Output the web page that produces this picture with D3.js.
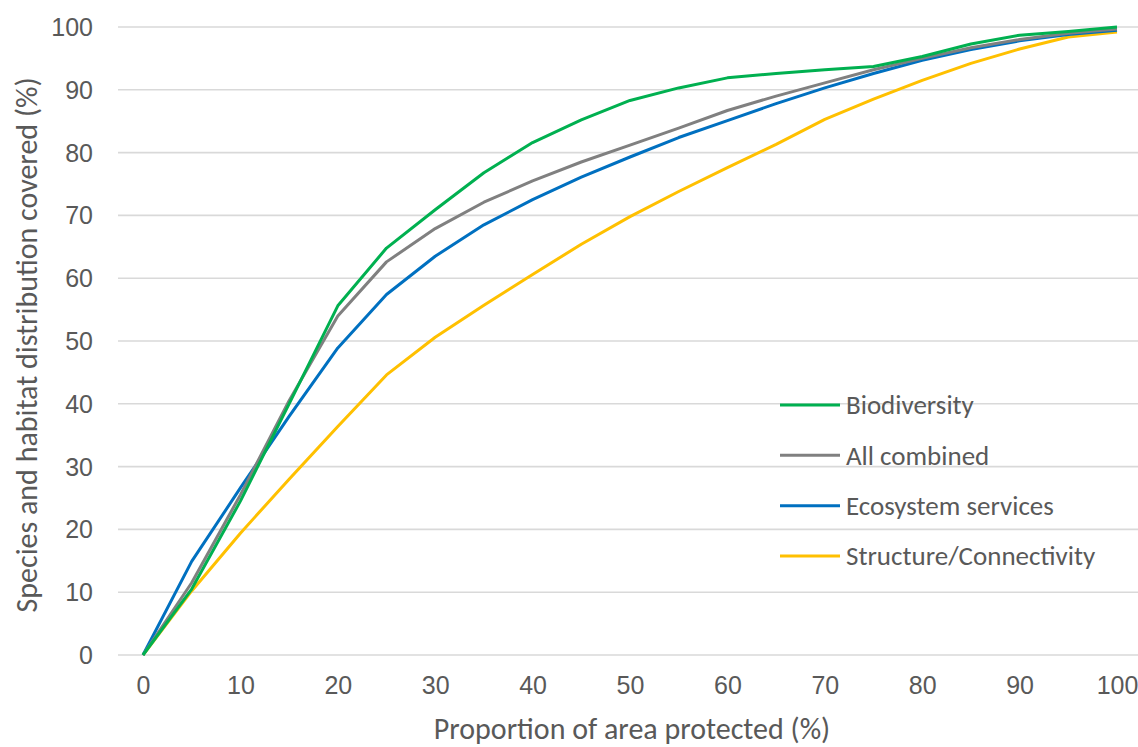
<!DOCTYPE html>
<html>
<head>
<meta charset="utf-8">
<script src="https://cdn.jsdelivr.net/npm/d3@7"></script>
<style>
  html, body { margin: 0; padding: 0; background: #fff; }
  svg { display: block; font-family: Carlito, Calibri, Lato, "Open Sans", sans-serif; }
  .tick text { fill: #595959; font-size: 25px; }
  .axis-title { fill: #595959; font-size: 30px; }
  .legend text { fill: #595959; font-size: 27px; }
</style>
</head>
<body>
<svg id="chart" width="1138" height="747"></svg>
<script>
const protectedPct = [0, 5, 10, 15, 20, 25, 30, 35, 40, 45, 50, 55, 60, 65, 70, 75, 80, 85, 90, 95, 100];
const biodiversity = [0, 10.5, 24.5, 40, 55.6, 64.8, 70.9, 76.8, 81.6, 85.2, 88.3, 90.3, 91.9, 92.6, 93.2, 93.7, 95.3, 97.3, 98.7, 99.3, 100];
const allCombined = [0, 11.5, 25.5, 40.5, 54, 62.6, 67.9, 72.1, 75.5, 78.5, 81.2, 83.9, 86.7, 89, 91.1, 93.2, 95, 96.7, 98, 99, 99.7];
const ecosystemServices = [0, 14.9, 26.6, 38, 48.9, 57.4, 63.5, 68.5, 72.5, 76.1, 79.3, 82.4, 85.1, 87.8, 90.3, 92.6, 94.7, 96.4, 97.8, 98.8, 99.5];
const structureConnectivity = [0, 10.2, 19.4, 28, 36.4, 44.6, 50.6, 55.7, 60.6, 65.4, 69.8, 73.8, 77.6, 81.3, 85.3, 88.5, 91.5, 94.2, 96.5, 98.4, 99.2];
const xTicks = d3.range(0, 101, 10);
const yTicks = d3.range(0, 101, 10);

const series = [
  { name: 'Structure/Connectivity', values: structureConnectivity, color: '#ffc000' },
  { name: 'Ecosystem services', values: ecosystemServices, color: '#0070c0' },
  { name: 'All combined', values: allCombined, color: '#808080' },
  { name: 'Biodiversity', values: biodiversity, color: '#00b050' }
];
const legendOrder = ['Biodiversity', 'All combined', 'Ecosystem services', 'Structure/Connectivity'];

const svg = d3.select('#chart');
const x = d3.scaleLinear().domain([0, 100]).range([143, 1117]);
const y = d3.scaleLinear().domain([0, 100]).range([655, 27]);

// gridlines run past the plot to the right edge
svg.append('g')
  .selectAll('line')
  .data(yTicks)
  .join('line')
  .attr('x1', 118)
  .attr('x2', 1138)
  .attr('y1', (d) => y(d))
  .attr('y2', (d) => y(d))
  .attr('stroke', '#d9d9d9')
  .attr('stroke-width', 1.6);

const yAxis = svg.append('g')
  .attr('transform', 'translate(101,0)')
  .call(d3.axisLeft(y).tickValues(yTicks).tickSize(0).tickPadding(8));
yAxis.select('.domain').remove();
yAxis.selectAll('.tick text').attr('dy', '0.34em');

const xAxis = svg.append('g')
  .attr('transform', 'translate(0,676)')
  .call(d3.axisBottom(x).tickValues(xTicks).tickSize(0).tickPadding(0));
xAxis.select('.domain').remove();

svg.append('text')
  .attr('class', 'axis-title')
  .attr('x', 632)
  .attr('y', 739)
  .attr('text-anchor', 'middle')
  .text('Proportion of area protected (%)');

svg.append('text')
  .attr('class', 'axis-title')
  .attr('transform', 'translate(37,345) rotate(-90)')
  .attr('text-anchor', 'middle')
  .text('Species and habitat distribution covered (%)');

const line = d3.line()
  .x((d, i) => x(protectedPct[i]))
  .y((d) => y(d));

svg.append('g')
  .selectAll('path')
  .data(series)
  .join('path')
  .attr('d', (d) => line(d.values))
  .attr('fill', 'none')
  .attr('stroke', (d) => d.color)
  .attr('stroke-width', 3)
  .attr('stroke-linejoin', 'round');

const legend = svg.append('g').attr('class', 'legend');
const legendY = d3.scalePoint().domain(legendOrder).range([405, 556]);
const legendItems = legend.selectAll('g')
  .data(legendOrder.map((n) => series.find((s) => s.name === n)))
  .join('g')
  .attr('transform', (d) => `translate(780,${legendY(d.name)})`);
legendItems.append('line')
  .attr('x1', 0)
  .attr('x2', 60)
  .attr('stroke', (d) => d.color)
  .attr('stroke-width', 3);
legendItems.append('text')
  .attr('x', 66)
  .attr('dy', '0.35em')
  .text((d) => d.name);
</script>
</body>
</html>
